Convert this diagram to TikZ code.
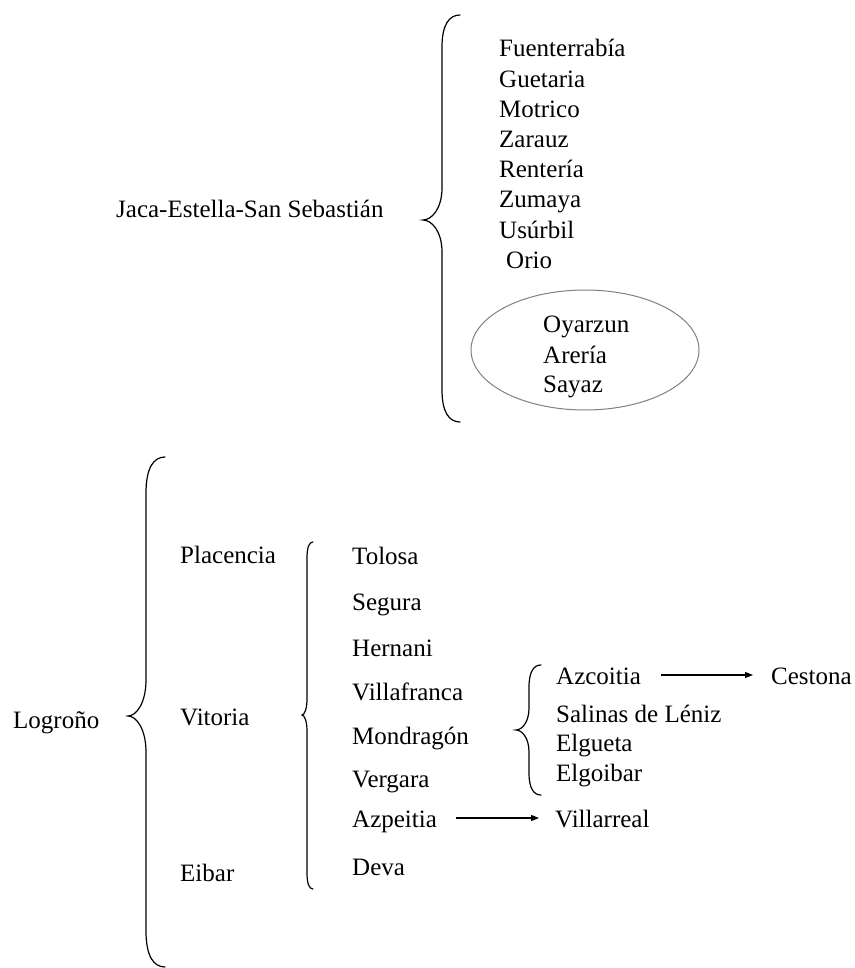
\documentclass[tikz,border=0pt]{standalone}
\usepackage{fontspec}
\setmainfont{Liberation Serif}
\usetikzlibrary{arrows.meta}
% brace: #1 x end, #2 x line, #3 x tip, #4 y top, #5 y tip, #6 y bottom, #7 curl height
\newcommand\wordbrace[7]{%
  \draw[br] (#1,#4) .. controls ({#2+0.4*(#1-#2)},#4) and (#2,{#4+0.3*#7}) .. (#2,{#4+#7})
    -- (#2,{#5-#7}) .. controls (#2,{#5-0.35*#7}) and ({#3+0.45*(#2-#3)},#5) .. (#3,#5)
    .. controls ({#3+0.45*(#2-#3)},#5) and (#2,{#5+0.35*#7}) .. (#2,{#5+#7})
    -- (#2,{#6-#7}) .. controls (#2,{#6-0.3*#7}) and ({#2+0.4*(#1-#2)},#6) .. (#1,#6);}
\begin{document}
\begin{tikzpicture}[x=1pt,y=-1pt,
  lbl/.style={anchor=base west,inner sep=0pt,font=\fontsize{25}{30}\selectfont},
  br/.style={line width=1.2pt,line cap=round},
  arr/.style={line width=1.1pt,-{Triangle[length=8pt,width=6pt]}},
  ov/.style={draw=black!50,line width=1pt}]
\useasboundingbox (0,0) rectangle (854,968);

% ---------- upper group ----------
\node[lbl] (jaca) at (116,218) {Jaca-Estella-San Sebastián};
\wordbrace{460}{442}{423}{15}{220}{422}{32}
\node[lbl] (fuen) at (499,57)  {Fuenterrabía};
\node[lbl] (guet) at (499,88)  {Guetaria};
\node[lbl] (motr) at (499,118) {Motrico};
\node[lbl] (zara) at (499,148) {Zarauz};
\node[lbl] (rent) at (499,178) {Rentería};
\node[lbl] (zuma) at (499,208) {Zumaya};
\node[lbl] (usur) at (499,239) {Usúrbil};
\node[lbl] (orio) at (506,269) {Orio};
\coordinate (oval) at (585,350);
\draw[ov] (oval) ellipse [x radius=114pt, y radius=60pt];
\node[lbl] (oyar) at (543,332) {Oyarzun};
\node[lbl] (arer) at (543,363) {Arería};
\node[lbl] (saya) at (543,392) {Sayaz};

% ---------- lower group ----------
\node[lbl] (logr) at (13,728) {Logroño};
\wordbrace{165}{146}{128}{457}{716}{967}{36}
\node[lbl] (plac) at (180,563) {Placencia};
\node[lbl] (vito) at (180,725) {Vitoria};
\node[lbl] (eiba) at (180,881) {Eibar};

\wordbrace{313}{307}{302}{542}{715}{889}{16}
\node[lbl] (tolo) at (352,564) {Tolosa};
\node[lbl] (segu) at (352,610) {Segura};
\node[lbl] (hern) at (352,656) {Hernani};
\node[lbl] (vill) at (352,700) {Villafranca};
\node[lbl] (mond) at (352,744) {Mondragón};
\node[lbl] (verg) at (352,787) {Vergara};
\node[lbl] (azpe) at (352,827) {Azpeitia};
\node[lbl] (deva) at (352,875) {Deva};
\node[lbl] (vilr) at (555,827) {Villarreal};
\draw[arr] ([shift={(19,-9)}]azpe.base east) -- ([shift={(-16,-9)}]vilr.base west);

\wordbrace{541}{529}{516}{665}{730}{795}{22}
\node[lbl] (azco) at (556,684) {Azcoitia};
\node[lbl] (sali) at (556,722) {Salinas de Léniz};
\node[lbl] (elgu) at (556,751) {Elgueta};
\node[lbl] (elgo) at (556,781) {Elgoibar};
\node[lbl] (cest) at (771,684) {Cestona};
\draw[arr] ([shift={(20,-9)}]azco.base east) -- ([shift={(-18,-9)}]cest.base west);
\end{tikzpicture}
\end{document}
